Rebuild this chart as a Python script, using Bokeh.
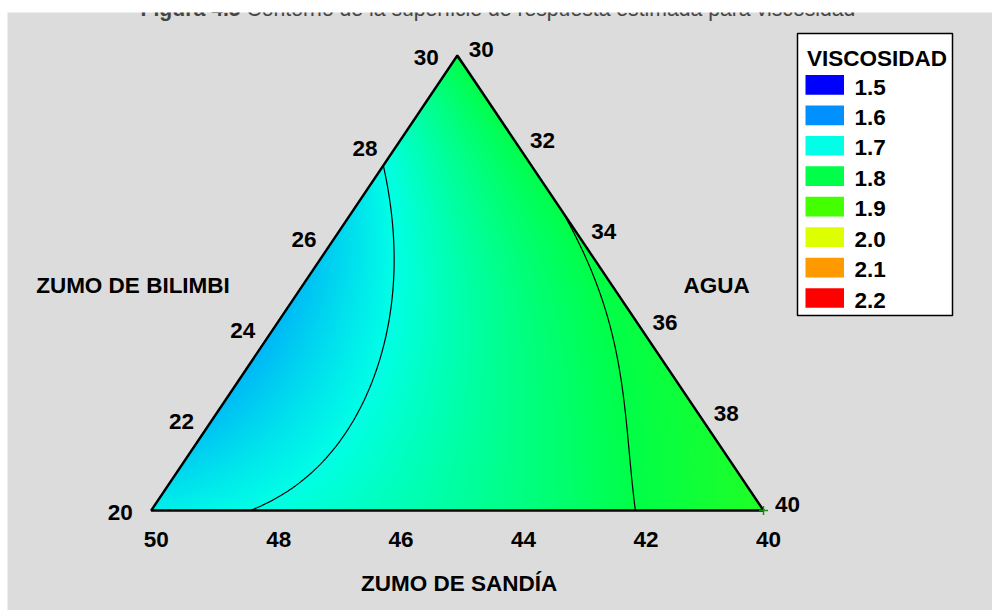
import numpy as np
from bokeh.plotting import figure
from bokeh.models import Range1d, Label
from bokeh.core.properties import value
from bokeh.embed import file_html
from bokeh.resources import INLINE

# ---------------------------------------------------------------- data
# Mixture region (percent); each component spans 10 units
sandia_ticks = [50, 48, 46, 44, 42, 40]
bilimbi_ticks = [20, 22, 24, 26, 28, 30]
agua_ticks = [30, 32, 34, 36, 38, 40]

# corners of the experimental region: (sandia, bilimbi, agua)
corner_sandia = [50, 40, 40]
corner_bilimbi = [20, 20, 30]
corner_agua = [30, 40, 30]

# estimated special-cubic response surface for viscosity (pseudo-components)
coef_names = ["sandia", "agua", "bilimbi",
              "sandia*agua", "sandia*bilimbi", "agua*bilimbi",
              "sandia*agua*bilimbi"]
coef_values = [1.685, 1.848, 1.801, -0.084, -0.398, -0.076, 0.53]

# contour levels and their colours
legend_levels = [1.5, 1.6, 1.7, 1.8, 1.9, 2.0, 2.1, 2.2]
legend_colors = ["#0000ff", "#0090ff", "#00ffe6", "#00ff48",
                 "#44ff00", "#ddff00", "#ff9900", "#ff0000"]

# design point shown on the plot
design_sandia = [40]
design_bilimbi = [20]
design_agua = [40]

FONT = "Liberation Sans, Arial, sans-serif"
TXT = "22.5px"
CAP = "21.2px"

# ---------------------------------------------------------------- helpers
PX0, PXW, PY0, PYH = 150.7, 612.3, 510.0, 455.0


def px(xp):
    return (xp - PX0) / PXW


def py(yp):
    return (PY0 - yp) / PYH


def pseudo(sandia, bilimbi, agua):
    s = (np.asarray(sandia, float) - 40) / 10
    b = (np.asarray(bilimbi, float) - 20) / 10
    a = (np.asarray(agua, float) - 30) / 10
    return s, a, b


def to_xy(s, a, b):
    return a + 0.5 * b, b


def model(s, a, b):
    c = coef_values
    return (c[0] * s + c[1] * a + c[2] * b + c[3] * s * a + c[4] * s * b
            + c[5] * a * b + c[6] * s * a * b)


def hex_rgb(h):
    h = h.lstrip("#")
    return [int(h[i:i + 2], 16) for i in (0, 2, 4)]


lv = np.array(legend_levels)
rgb = np.array([hex_rgb(c) for c in legend_colors], float)


def colorize(v):
    return [np.interp(v, lv, rgb[:, k]) for k in range(3)]


# ---------------------------------------------------------------- figure
p = figure(width=992, height=610,
           x_range=Range1d(px(7), px(992)), y_range=Range1d(py(610), py(12)),
           min_border_left=7, min_border_top=12, min_border_right=0,
           min_border_bottom=0, x_axis_location=None, y_axis_location=None,
           toolbar_location=None, output_backend="svg",
           background_fill_color="#dcdcdc", border_fill_color="white",
           outline_line_color=None)
p.grid.visible = False

# smooth shaded surface
nx, ny = 613, 456
X, Y = np.meshgrid((np.arange(nx) + 0.5) / nx, (np.arange(ny) + 0.5) / ny)
b = Y
a = X - 0.5 * Y
s = 1 - a - b
inside = (a >= -0.001) & (s >= -0.001)
V = model(s, a, b)
r, g, bl = colorize(V)
img = np.zeros((ny, nx), dtype=np.uint32)
view = img.view(dtype=np.uint8).reshape((ny, nx, 4))
view[..., 0] = np.round(r).astype(np.uint8)
view[..., 1] = np.round(g).astype(np.uint8)
view[..., 2] = np.round(bl).astype(np.uint8)
view[..., 3] = np.where(inside, 255, 0).astype(np.uint8)
p.image_rgba(image=[img], x=0, y=0, dw=1, dh=1)

# contour lines on a grid that follows the triangle
u, v = np.meshgrid(np.linspace(0, 1, 300), np.linspace(0, 1, 300))
cb = v
ca = u * (1 - v)
cs = 1 - ca - cb
cx, cy = to_xy(cs, ca, cb)
p.contour(cx, cy, model(cs, ca, cb), legend_levels,
          line_color="black", line_width=1.2)

# triangle outline
ts, ta, tb = pseudo(corner_sandia, corner_bilimbi, corner_agua)
tx, ty = to_xy(ts, ta, tb)
p.patch(list(tx) + [tx[0]], list(ty) + [ty[0]], fill_color=None,
         line_color="black", line_width=2.4)

# design point
ds, da, db = pseudo(design_sandia, design_bilimbi, design_agua)
dx, dy = to_xy(ds, da, db)
p.scatter(dx, dy, marker="cross", size=9, line_color="#1a8a1a", line_width=1.5)

text_kw = dict(text_font=value(FONT), text_font_style="bold",
               text_font_size=TXT, text_color="black",
               text_align="center", text_baseline="middle")

# bottom scale: zumo de sandia (bilimbi at minimum)
s1, a1, b1 = pseudo(sandia_ticks, [20] * 6, [100 - 20 - v for v in sandia_ticks])
x1, y1 = to_xy(s1, a1, b1)
p.text(x1, y1, text=[str(t) for t in sandia_ticks], x_offset=5, y_offset=29,
       **text_kw)

# left scale: zumo de bilimbi (agua at minimum)
s2, a2, b2 = pseudo([100 - 30 - v for v in bilimbi_ticks], bilimbi_ticks, [30] * 6)
x2, y2 = to_xy(s2, a2, b2)
p.text(x2, y2, text=[str(t) for t in bilimbi_ticks], x_offset=-31, y_offset=2,
       **text_kw)

# right scale: agua (sandia at minimum)
s3, a3, b3 = pseudo([40] * 6, [100 - 40 - v for v in agua_ticks], agua_ticks)
x3, y3 = to_xy(s3, a3, b3)
p.text(x3, y3, text=[str(t) for t in agua_ticks], x_offset=24, y_offset=-6,
       **text_kw)

# axis names
p.text([px(132.5), px(716), px(458.6)], [py(284.7), py(284.7), py(582.5)],
       text=["ZUMO DE BILIMBI", "AGUA", "ZUMO DE SANDÍA"], **text_kw)

# legend
p.quad(left=[px(797)], right=[px(952)], top=[py(33)], bottom=[py(315)],
       fill_color="white", line_color="black", line_width=1.5)
p.text([px(806.5)], [py(57.5)], text=["VISCOSIDAD"],
       **{**text_kw, "text_align": "left"})
tops = [74.5 + 30.45 * i for i in range(len(legend_levels))]
p.quad(left=[px(805)] * 8, right=[px(843.5)] * 8,
       top=[py(t) for t in tops], bottom=[py(t + 19.7) for t in tops],
       fill_color=legend_colors, line_color=None)
p.text([px(854)] * 8, [py(t + 12) for t in tops],
       text=[f"{l:.1f}" for l in legend_levels],
       **{**text_kw, "text_align": "left"})

# caption above the plot
p.add_layout(Label(x=px(140), y=py(8), text="Figura 4.5",
                   text_font=FONT, text_font_style="bold", text_font_size=CAP,
                   text_baseline="alphabetic", text_align="left"))
p.add_layout(Label(x=px(246), y=py(8),
                   text="Contorno de la superficie de respuesta estimada para viscosidad",
                   text_font=FONT, text_font_style="normal", text_font_size=CAP,
                   text_baseline="alphabetic", text_align="left"))

open("out.html", "w").write(file_html(p, INLINE))
